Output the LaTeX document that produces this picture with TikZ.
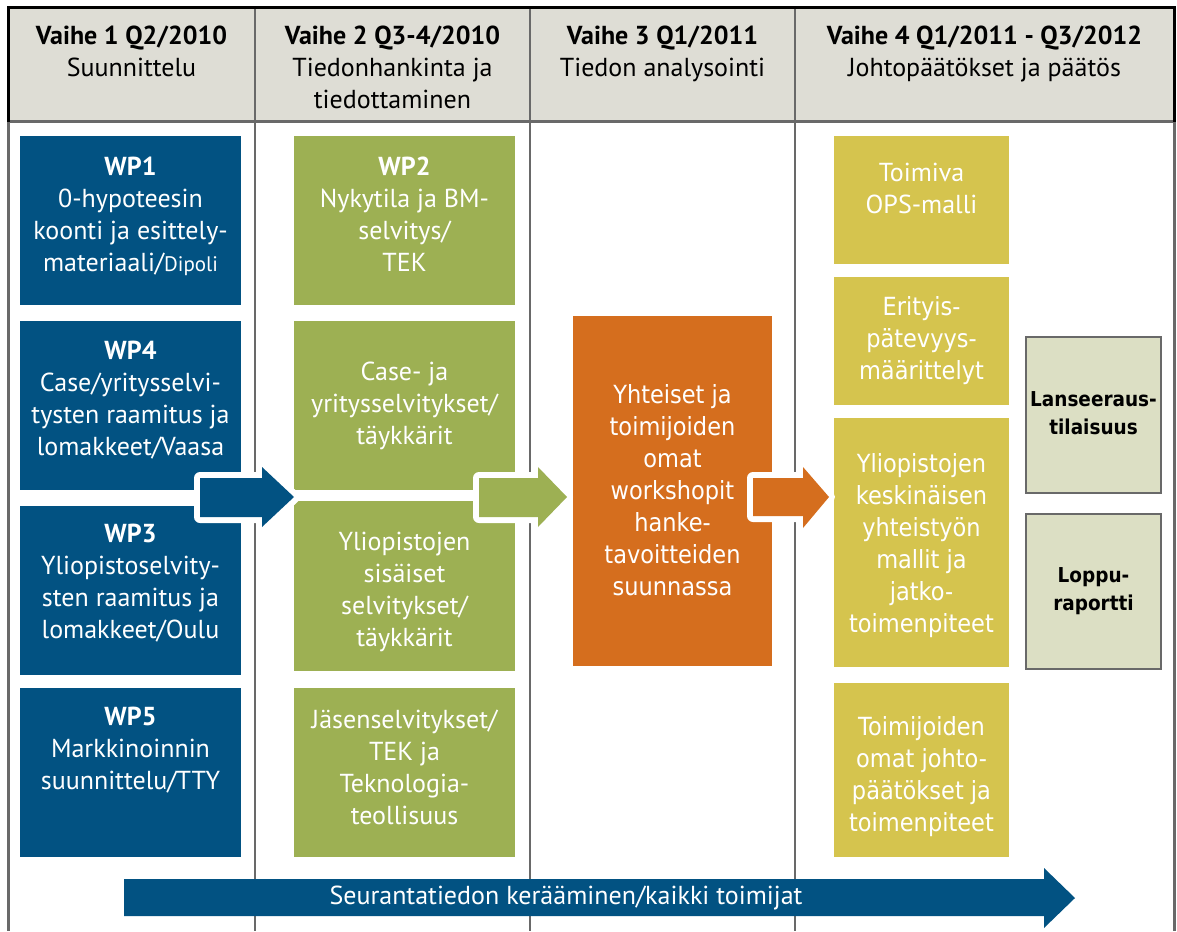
\documentclass[tikz,border=0pt]{standalone}
\usepackage{fontspec}
\setmainfont{PT Sans}
\newfontfamily\tahfont[FakeStretch=0.9]{DejaVu Sans}
\definecolor{cblue}{RGB}{2,82,130}
\definecolor{cgreen}{RGB}{157,176,83}
\definecolor{corange}{RGB}{213,110,30}
\definecolor{cyellow}{RGB}{213,196,78}
\definecolor{cgrey}{RGB}{220,223,196}
\definecolor{chead}{RGB}{222,221,213}
\definecolor{cline}{RGB}{105,105,105}
\begin{document}
\begin{tikzpicture}[x=1pt,y=-1pt,
  box/.style={rectangle, inner sep=0pt, outer sep=0pt, anchor=north west},
  myr/.style={font=\fontsize{26}{32}\selectfont, align=center, inner sep=0pt, outer sep=0pt, anchor=north},
  tah/.style={font=\tahfont\fontsize{25}{32}\selectfont, align=center, inner sep=0pt, outer sep=0pt, anchor=north},
  tahb/.style={font=\tahfont\bfseries\fontsize{20.5}{28}\selectfont, align=center, inner sep=0pt, outer sep=0pt, anchor=north},
  wtext/.style={text=white},
  blockarrow/.style={preaction={draw=white, fill=white, line width=12pt, line join=round}}]
\useasboundingbox (0,0) rectangle (1177,931);
% header cells
\node[box, fill=chead, minimum width=247, minimum height=114] (hc1) at (8,8) {};
\node[box, fill=chead, minimum width=275, minimum height=114] (hc2) at (255,8) {};
\node[box, fill=chead, minimum width=265, minimum height=114] (hc3) at (530,8) {};
\node[box, fill=chead, minimum width=379, minimum height=114] (hc4) at (795,8) {};
% frame lines
\draw[cline, line width=3pt] (8,122) -- (1174,122);
\draw[cline, line width=2.5pt] (255,8) -- (255,931) (530,8) -- (530,931) (795,8) -- (795,931);
\draw[cline, line width=3pt] (8,122) -- (8,931) (1174,122) -- (1174,931);
\draw[black, line width=3pt] (8,122) -- (8,8) -- (1174,8) -- (1174,122);
% header texts
\node[myr] (ht1) at ([yshift=-18pt]hc1.north) {\textbf{Vaihe 1 Q2/2010}\\Suunnittelu};
\node[myr] (ht2) at ([yshift=-18pt]hc2.north) {\textbf{Vaihe 2 Q3-4/2010}\\Tiedonhankinta ja\\tiedottaminen};
\node[myr] (ht3) at ([yshift=-18pt]hc3.north) {\textbf{Vaihe 3 Q1/2011}\\Tiedon analysointi};
\node[myr] (ht4) at ([yshift=-18pt]hc4.north) {\textbf{Vaihe 4 Q1/2011 - Q3/2012}\\Johtopäätökset ja päätös};
% blue boxes
\node[box, fill=cblue, minimum width=221, minimum height=169] (wp1) at (20,136) {};
\node[box, fill=cblue, minimum width=221, minimum height=169] (wp4) at (20,321) {};
\node[box, fill=cblue, minimum width=221, minimum height=169] (wp3) at (20,506) {};
\node[box, fill=cblue, minimum width=221, minimum height=169] (wp5) at (20,688) {};
% green boxes
\node[box, fill=cgreen, minimum width=221, minimum height=169] (wp2) at (294,136) {};
\node[box, fill=cgreen, minimum width=221, minimum height=169] (case) at (294,321) {};
\node[box, fill=cgreen, minimum width=221, minimum height=170] (yliop) at (294,501) {};
\node[box, fill=cgreen, minimum width=221, minimum height=169] (jasen) at (294,688) {};
% orange box
\node[box, fill=corange, minimum width=199, minimum height=350] (ws) at (573,316) {};
% yellow boxes
\node[box, fill=cyellow, minimum width=175, minimum height=128] (toim) at (834,136) {};
\node[box, fill=cyellow, minimum width=175, minimum height=128] (erit) at (834,277) {};
\node[box, fill=cyellow, minimum width=175, minimum height=249] (kesk) at (834,418) {};
\node[box, fill=cyellow, minimum width=175, minimum height=174] (omat) at (834,683) {};
% grey boxes
\node[box, fill=cgrey, draw=cline, line width=2.5pt, minimum width=135, minimum height=156] (lans) at (1026,337) {};
\node[box, fill=cgrey, draw=cline, line width=2.5pt, minimum width=135, minimum height=155] (lopp) at (1026,514) {};
% block arrows
\fill[cblue, blockarrow] (200,478) -- (262,478) -- (262,467) -- (294,497) -- (262,527) -- (262,517) -- (200,517) -- cycle;
\fill[cgreen, blockarrow] (479,478) -- (538,478) -- (538,467) -- (567,497) -- (538,527) -- (538,517) -- (479,517) -- cycle;
\fill[corange, blockarrow] (753,478) -- (803,478) -- (803,467) -- (829,497) -- (803,528) -- (803,516) -- (753,516) -- cycle;
\fill[cblue] (124,879) -- (1044,879) -- (1044,868) -- (1075,898) -- (1044,928) -- (1044,916) -- (124,916) -- cycle;
% box texts
\node[myr, wtext] (wp1t) at ([yshift=-21pt]wp1.north) {\textbf{WP1}\\0-hypoteesin\\koonti ja esittely-\\materiaali/{\fontsize{21}{32}\selectfont Dipoli}};
\node[myr, wtext] (wp4t) at ([yshift=-20pt]wp4.north) {\textbf{WP4}\\Case/yritysselvi-\\tysten raamitus ja\\lomakkeet/Vaasa};
\node[myr, wtext] (wp3t) at ([yshift=-18pt]wp3.north) {\textbf{WP3}\\Yliopistoselvity-\\sten raamitus ja\\lomakkeet/Oulu};
\node[myr, wtext] (wp5t) at ([yshift=-19pt]wp5.north) {\textbf{WP5}\\Markkinoinnin\\suunnittelu/TTY};
\node[myr, wtext] (wp2t) at ([yshift=-21pt]wp2.north) {\textbf{WP2}\\Nykytila ja BM-\\selvitys/\\TEK};
\node[myr, wtext] (caset) at ([yshift=-41pt]case.north) {Case- ja\\yritysselvitykset/\\täykkärit};
\node[myr, wtext] (yliopt) at ([yshift=-31pt]yliop.north) {Yliopistojen\\sisäiset\\selvitykset/\\täykkärit};
\node[myr, wtext] (jasent) at ([yshift=-22pt]jasen.north) {Jäsenselvitykset/\\TEK ja\\Teknologia-\\teollisuus};
\node[tah, wtext] (wst) at ([yshift=-68pt]ws.north) {Yhteiset ja\\toimijoiden\\omat\\workshopit\\hanke-\\tavoitteiden\\suunnassa};
\node[myr, wtext] (toimt) at ([yshift=-27pt]toim.north) {Toimiva\\OPS-malli};
\node[tah, wtext] (eritt) at ([yshift=-20pt]erit.north) {Erityis-\\pätevyys-\\määrittelyt};
\node[tah, wtext] (keskt) at ([yshift=-35pt]kesk.north) {Yliopistojen\\keskinäisen\\yhteistyön\\mallit ja\\jatko-\\toimenpiteet};
\node[tah, wtext] (omatt) at ([yshift=-33pt]omat.north) {Toimijoiden\\omat johto-\\päätökset ja\\toimenpiteet};
\node[tahb] (lanst) at ([yshift=-55pt]lans.north) {Lanseeraus-\\tilaisuus};
\node[tahb] (loppt) at ([yshift=-54pt]lopp.north) {Loppu-\\raportti};
\node[myr, wtext, anchor=base] (seur) at (566,904) {Seurantatiedon kerääminen/kaikki toimijat};
\end{tikzpicture}
\end{document}
